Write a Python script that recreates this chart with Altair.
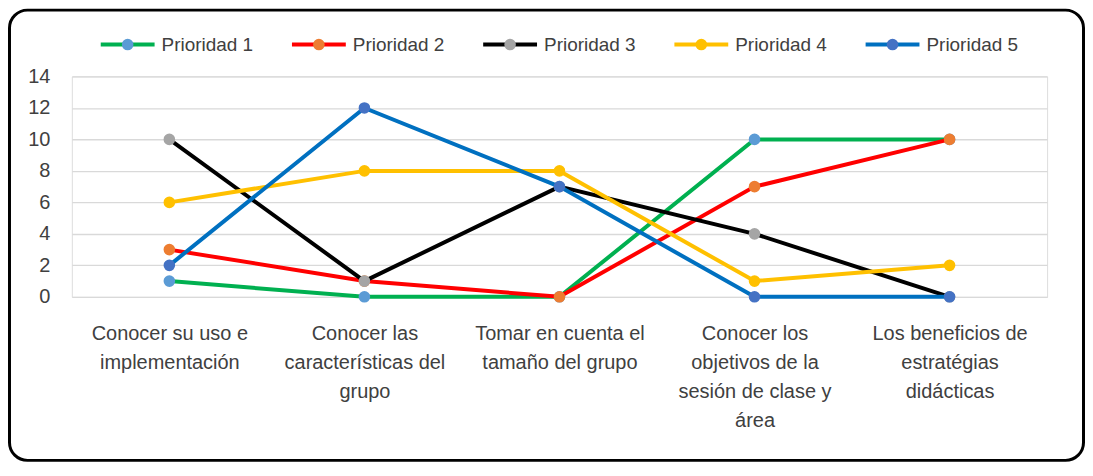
import altair as alt
import pandas as pd

categories = [
    "Conocer su uso e|implementación",
    "Conocer las|características del|grupo",
    "Tomar en cuenta el|tamaño del grupo",
    "Conocer los|objetivos de la|sesión de clase y|área",
    "Los beneficios de|estratégias|didácticas",
]
series_names = ["Prioridad 1", "Prioridad 2", "Prioridad 3", "Prioridad 4", "Prioridad 5"]
prioridad_1 = [1, 0, 0, 10, 10]
prioridad_2 = [3, 1, 0, 7, 10]
prioridad_3 = [10, 1, 7, 4, 0]
prioridad_4 = [6, 8, 8, 1, 2]
prioridad_5 = [2, 12, 7, 0, 0]
series_values = [prioridad_1, prioridad_2, prioridad_3, prioridad_4, prioridad_5]
line_colors = ["#00B050", "#FF0000", "#000000", "#FFC000", "#0070C0"]
marker_colors = ["#5B9BD5", "#ED7D31", "#A5A5A5", "#FFC000", "#4472C4"]
y_ticks = [0, 2, 4, 6, 8, 10, 12, 14]

rows = []
for name, vals in zip(series_names, series_values):
    for cat, v in zip(categories, vals):
        rows.append({"serie": name, "categoria": cat, "valor": v})
df = pd.DataFrame(rows)

FONT = "Liberation Sans"
TXT = "#404040"

X = alt.X(
    "categoria:N",
    sort=categories,
    scale=alt.Scale(type="point", padding=0.5),
    axis=alt.Axis(
        title=None, labelExpr="split(datum.label, '|')", labelAngle=0,
        labelFontSize=20, labelColor=TXT, labelFont=FONT, labelPadding=27,
        labelLineHeight=29, labelBaseline="top", domain=False, ticks=False,
        grid=False, labelLimit=400, labelOverlap=False,
    ),
)
Y = alt.Y(
    "valor:Q",
    scale=alt.Scale(domain=[0, 14], nice=False),
    axis=alt.Axis(
        title=None, values=y_ticks, grid=True, gridColor="#d9d9d9", gridWidth=1.3,
        domain=False, ticks=False, labelFontSize=20, labelColor=TXT, labelFont=FONT,
        labelPadding=22,
    ),
)

layers = []
for name, lc, mc in zip(series_names, line_colors, marker_colors):
    base = alt.Chart(df).transform_filter(alt.datum.serie == name).encode(x=X, y=Y)
    layers.append(base.mark_line(color=lc, strokeWidth=4))
    layers.append(base.mark_point(filled=True, size=135, color=mc, opacity=1))
data_layer = alt.layer(*layers)

legend_df = pd.DataFrame({"serie": series_names, "lc": line_colors, "mc": marker_colors})
LX = alt.X("serie:N", sort=series_names,
           scale=alt.Scale(type="point", range=[56, 823], padding=0), axis=None)
legend_line = alt.Chart(legend_df).mark_point(
    shape="M-1,0L1,0", size=2916, strokeWidth=4, filled=False, opacity=1
).encode(x=LX, y=alt.value(-32), color=alt.Color("lc:N", scale=None))
legend_pts = alt.Chart(legend_df).mark_point(filled=True, size=135, opacity=1).encode(
    x=LX, y=alt.value(-32), color=alt.Color("mc:N", scale=None))
legend_txt = alt.Chart(legend_df).mark_text(
    align="left", baseline="middle", dx=34, fontSize=19, font=FONT, color=TXT
).encode(x=LX, y=alt.value(-32), text="serie:N")
legend_layer = alt.layer(legend_line, legend_pts, legend_txt)

frame = alt.Chart(pd.DataFrame({"f": [0]})).mark_rect(
    filled=False, stroke="black", strokeWidth=3, cornerRadius=18
).encode(x=alt.value(-62.5), x2=alt.value(1014.5), y=alt.value(-66.5), y2=alt.value(385))

chart = alt.layer(data_layer, legend_layer, frame).resolve_scale(x="independent").properties(
    width=978, height=221, padding=0
).configure_view(stroke=None).configure(font=FONT, background="white")

chart.save("out.html", embed_options={"renderer": "svg", "actions": False})
